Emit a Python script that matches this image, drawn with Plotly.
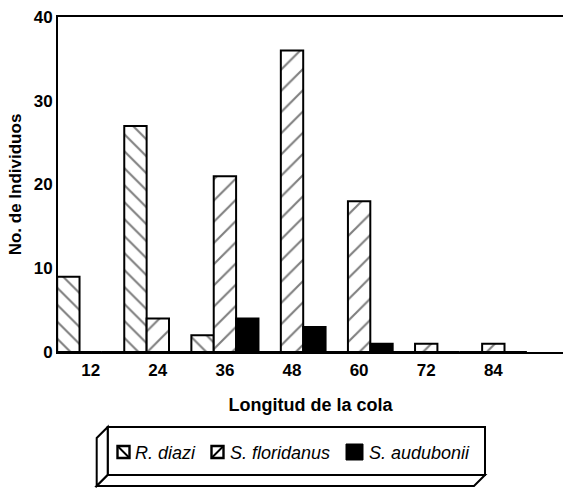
import plotly.graph_objects as go

# ---- data ----
tail_length = [12, 24, 36, 48, 60, 72, 84]
r_diazi = [9, 27, 2, 0, 0, 0, 0]
s_floridanus = [0, 4, 21, 36, 18, 1, 1]
s_audubonii = [0, 0, 4, 3, 1, 0, 0]
series_names = ["R. diazi", "S. floridanus", "S. audubonii"]
y_ticks = [0, 10, 20, 30, 40]

W, H = 563, 488
L, R, T, B = 58, 0, 17, 136
PW, PH = W - L - R, H - T - B

def px(x):
    return (x - L) / PW

def py(y):
    return (H - B - y) / PH

FONT = "Arial, Liberation Sans, Helvetica, sans-serif"
BAR_W = 4

fig = go.Figure()
fig.add_trace(go.Bar(
    x=tail_length, y=r_diazi, name=series_names[0], width=BAR_W, offset=-6,
    marker=dict(color="white", line=dict(color="black", width=2),
                pattern=dict(shape="\\", size=12, solidity=0.17,
                             fgcolor="black", bgcolor="white", fillmode="overlay")),
    showlegend=False))
fig.add_trace(go.Bar(
    x=tail_length, y=s_floridanus, name=series_names[1], width=BAR_W, offset=-2,
    marker=dict(color="white", line=dict(color="black", width=2),
                pattern=dict(shape="/", size=15, solidity=0.14,
                             fgcolor="black", bgcolor="white", fillmode="overlay")),
    showlegend=False))
fig.add_trace(go.Bar(
    x=tail_length, y=s_audubonii, name=series_names[2], width=BAR_W, offset=2,
    marker=dict(color="black", line=dict(color="black", width=2)),
    showlegend=False))

# ---- legend (drawn box with 3D look) ----
shapes = []
fx0, fy0, fx1, fy1 = 107.7, 427, 485, 475
d = 11
lw = 2
shapes.append(dict(type="rect", xref="paper", yref="paper",
                   x0=px(fx0), x1=px(fx1), y0=py(fy1), y1=py(fy0),
                   line=dict(color="black", width=lw), fillcolor="white"))
shapes.append(dict(type="path", xref="paper", yref="paper",
                   path=f"M{px(fx0)},{py(fy0)} L{px(fx0-d)},{py(fy0+d)} L{px(fx0-d)},{py(fy1+d)} L{px(fx0)},{py(fy1)} Z",
                   line=dict(color="black", width=lw), fillcolor="white"))
shapes.append(dict(type="path", xref="paper", yref="paper",
                   path=f"M{px(fx0)},{py(fy1)} L{px(fx0-d)},{py(fy1+d)} L{px(fx1-d)},{py(fy1+d)} L{px(fx1)},{py(fy1)} Z",
                   line=dict(color="black", width=lw), fillcolor="white"))

cy = 452
sw = 12
swatches = [(117.5, "\\", 133), (211.5, "/", 228), (346, "solid", 367)]
for sx, kind, tx in swatches:
    if kind == "solid":
        shapes.append(dict(type="rect", xref="paper", yref="paper",
                           x0=px(sx), x1=px(sx + 17), y0=py(cy + 8), y1=py(cy - 8),
                           line=dict(color="black", width=1), fillcolor="black"))
    else:
        shapes.append(dict(type="rect", xref="paper", yref="paper",
                           x0=px(sx), x1=px(sx + sw), y0=py(cy + sw / 2), y1=py(cy - sw / 2),
                           line=dict(color="black", width=2.4), fillcolor="white"))
        if kind == "\\":
            shapes.append(dict(type="line", xref="paper", yref="paper",
                               x0=px(sx), y0=py(cy - sw / 2), x1=px(sx + sw), y1=py(cy + sw / 2),
                               line=dict(color="black", width=2)))
        else:
            shapes.append(dict(type="line", xref="paper", yref="paper",
                               x0=px(sx), y0=py(cy + sw / 2), x1=px(sx + sw), y1=py(cy - sw / 2),
                               line=dict(color="black", width=2)))

annotations = []
for (sx, kind, tx), name in zip(swatches, series_names):
    annotations.append(dict(xref="paper", yref="paper", x=px(tx), y=py(cy + 1),
                            xanchor="left", yanchor="middle", showarrow=False,
                            text=f"<i>{name}</i>",
                            font=dict(family=FONT, size=18, color="black")))

fig.update_layout(
    width=W, height=H,
    margin=dict(l=L, r=R, t=T, b=B, autoexpand=False),
    plot_bgcolor="white", paper_bgcolor="white",
    barmode="overlay",
    font=dict(family=FONT, color="black"),
    shapes=shapes,
    annotations=annotations,
    xaxis=dict(
        range=[6.15, 96.46], tickmode="array", tickvals=tail_length,
        ticktext=[f"<b>{v}</b>" for v in tail_length],
        tickfont=dict(family=FONT, size=17, color="black"),
        showline=True, linecolor="black", linewidth=2, mirror=True,
        showgrid=False, zeroline=False, ticks="", ticklabelstandoff=2,
        title=dict(text="<b>Longitud de la cola</b>",
                   font=dict(family=FONT, size=18, color="black"), standoff=19),
    ),
    yaxis=dict(
        range=[0, 40], tickmode="array", tickvals=y_ticks,
        ticktext=[f"<b>{v}</b>" for v in y_ticks],
        tickfont=dict(family=FONT, size=17, color="black"),
        showline=True, linecolor="black", linewidth=2, mirror=False,
        showgrid=False, zeroline=False, ticks="", ticklabelstandoff=0,
        title=dict(text="<b>No. de Individuos</b>",
                   font=dict(family=FONT, size=17, color="black"), standoff=8),
    ),
)

fig.write_html("out.html",
               config={"displayModeBar": False},
               post_script="document.body.style.margin='0px';document.body.style.padding='0px';")
